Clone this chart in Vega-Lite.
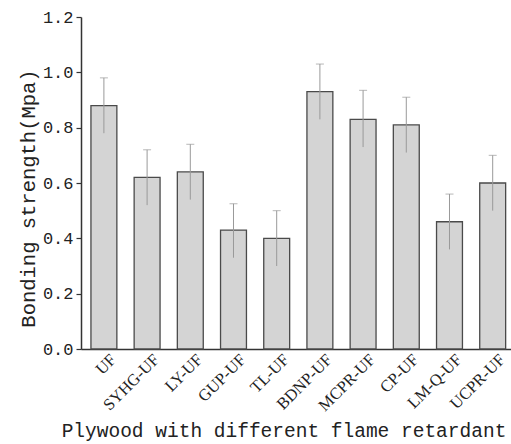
{
  "$schema": "https://vega.github.io/schema/vega-lite/v6.json",
  "autosize": {"type": "none"},
  "width": 430,
  "height": 332,
  "padding": {"left": 81, "top": 17, "right": 0, "bottom": 95},
  "background": "white",
  "config": {"view": {"stroke": null}},
  "data": {
    "values": [
      {"name": "UF", "value": 0.88, "low": 0.78, "high": 0.98},
      {"name": "SYHG-UF", "value": 0.62, "low": 0.52, "high": 0.72},
      {"name": "LY-UF", "value": 0.64, "low": 0.54, "high": 0.74},
      {"name": "GUP-UF", "value": 0.43, "low": 0.33, "high": 0.525},
      {"name": "TL-UF", "value": 0.40, "low": 0.30, "high": 0.50},
      {"name": "BDNP-UF", "value": 0.93, "low": 0.83, "high": 1.03},
      {"name": "MCPR-UF", "value": 0.83, "low": 0.73, "high": 0.935},
      {"name": "CP-UF", "value": 0.81, "low": 0.71, "high": 0.91},
      {"name": "LM-Q-UF", "value": 0.46, "low": 0.36, "high": 0.56},
      {"name": "UCPR-UF", "value": 0.60, "low": 0.50, "high": 0.70}
    ]
  },
  "encoding": {
    "x": {
      "field": "name",
      "type": "nominal",
      "sort": null,
      "scale": {"paddingInner": 0.4, "paddingOuter": 0.177, "align": 0.65},
      "axis": {
        "title": "Plywood with different flame retardant",
        "titleFont": "Liberation Mono",
        "titleFontSize": 19.5,
        "titleFontWeight": "normal",
        "titleColor": "#222",
        "titleX": 202.5,
        "titleY": 87,
        "titleAlign": "center",
        "titleBaseline": "alphabetic",
        "labelAngle": -45,
        "labelAlign": "right",
        "labelBaseline": "top",
        "labelFont": "Liberation Serif",
        "labelFontSize": 16.5,
        "labelColor": "#222",
        "labelPadding": 2,
        "labelOffset": 4,
        "ticks": false,
        "domainColor": "#333",
        "domainWidth": 1.5
      }
    }
  },
  "layer": [
    {
      "mark": {"type": "bar", "fill": "#d4d4d4", "stroke": "#4a4a4a", "strokeWidth": 1.3},
      "encoding": {
        "y": {
          "field": "value",
          "type": "quantitative",
          "scale": {"domain": [0, 1.2], "nice": false},
          "axis": {
            "title": "Bonding strength(Mpa)",
            "titleFont": "Liberation Mono",
            "titleFontSize": 20.5,
            "titleFontWeight": "normal",
            "titleColor": "#222",
            "titleX": -47,
            "titleY": 181,
            "titleAngle": -90,
            "titleAlign": "center",
            "titleBaseline": "alphabetic",
            "values": [0, 0.1, 0.2, 0.3, 0.4, 0.5, 0.6, 0.7, 0.8, 0.9, 1.0, 1.1, 1.2],
            "labelExpr": "round(datum.value*10) % 2 == 1 ? '' : format(datum.value, '.1f')",
            "labelFont": "Liberation Mono",
            "labelFontSize": 17,
            "labelColor": "#222",
            "labelPadding": 3,
            "tickSize": {"condition": {"test": "round(datum.value*10) % 2 == 1", "value": 3}, "value": 5},
            "tickColor": "#333",
            "tickWidth": 1.2,
            "domainColor": "#333",
            "domainWidth": 1.5,
            "grid": false
          }
        }
      }
    },
    {
      "mark": {"type": "rule", "color": "#999", "strokeWidth": 1},
      "encoding": {
        "y": {"field": "low", "type": "quantitative"},
        "y2": {"field": "high"}
      }
    },
    {
      "mark": {"type": "tick", "orient": "horizontal", "color": "#999", "size": 8, "thickness": 1},
      "encoding": {
        "y": {"field": "high", "type": "quantitative"}
      }
    }
  ]
}
